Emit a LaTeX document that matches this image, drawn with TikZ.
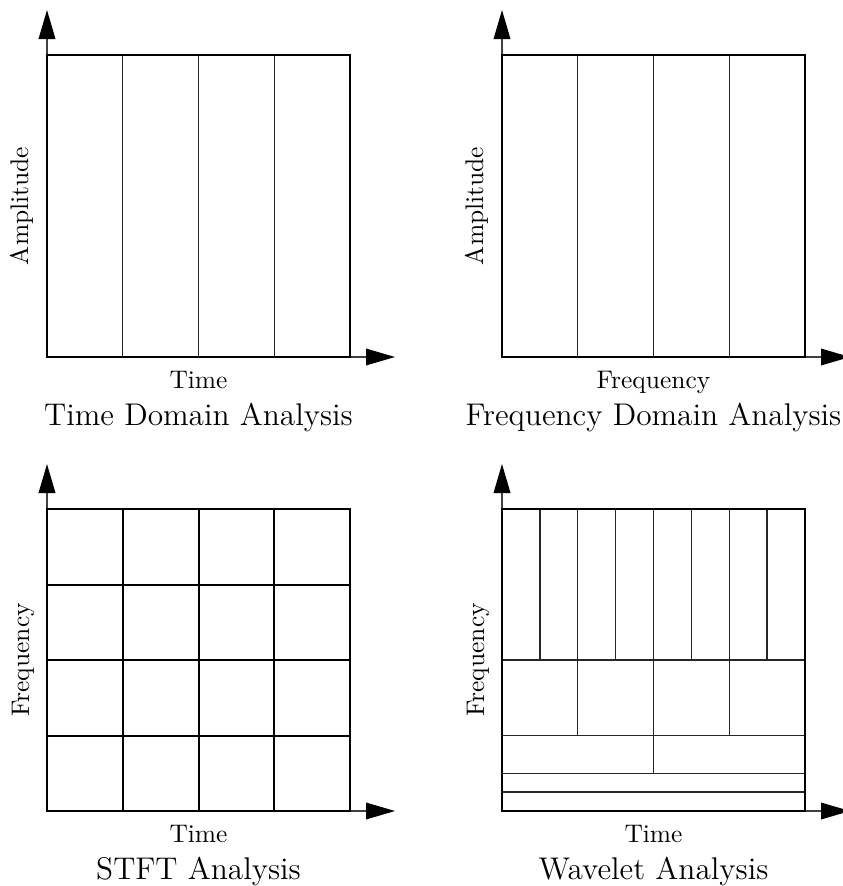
\documentclass[tikz,border=0pt]{standalone}
\usetikzlibrary{arrows.meta}
\begin{document}
\begin{tikzpicture}[x=0.75pt,y=-0.75pt,
  boxline/.style={line width=1.5pt,black},
  innerline/.style={line width=1.1pt,black!85},
  axisline/.style={line width=1pt,black!75,-{Triangle[length=21.75pt,width=12.5pt,color=black]}},
  axlabel/.style={font=\fontsize{10}{12}\selectfont,anchor=base,inner sep=0pt,scale=1.91,transform shape},
  caption/.style={font=\fontsize{12}{14}\selectfont,anchor=base,inner sep=0pt,scale=1.96,transform shape}]
\useasboundingbox (0,0) rectangle (843,886);
\clip (0,0) rectangle (843,886);

% ---------- Top-left: Time Domain ----------
\begin{scope}[shift={(47,55)}]
  \coordinate (tlO) at (0,302);
  \coordinate (tlY) at (0,-45);
  \coordinate (tlX) at (348,302);
  \foreach \x in {75.75,151.5,227.25} \draw[innerline] (\x,0) -- (\x,302);
  \draw[axisline] (tlO) -- (tlY);
  \draw[axisline] (tlO) -- (tlX);
  \draw[boxline] (0,0) rectangle (303,302);
  \node[axlabel] (tlxl) at (151.5,333) {Time};
  \node[caption] (tlcap) at (151.5,370) {Time Domain Analysis};
  \node[axlabel,rotate=90] (tlyl) at (-19,151) {Amplitude};
\end{scope}

% ---------- Top-right: Frequency Domain ----------
\begin{scope}[shift={(502,55)}]
  \coordinate (trO) at (0,302);
  \coordinate (trY) at (0,-45);
  \coordinate (trX) at (348,302);
  \foreach \x in {75.75,151.5,227.25} \draw[innerline] (\x,0) -- (\x,302);
  \draw[axisline] (trO) -- (trY);
  \draw[axisline] (trO) -- (trX);
  \draw[boxline] (0,0) rectangle (303,302);
  \node[axlabel] (trxl) at (151.5,333) {Frequency};
  \node[caption] (trcap) at (151.5,370) {Frequency Domain Analysis};
  \node[axlabel,rotate=90] (tryl) at (-19,151) {Amplitude};
\end{scope}

% ---------- Bottom-left: STFT ----------
\begin{scope}[shift={(47,509)}]
  \coordinate (blO) at (0,302);
  \coordinate (blY) at (0,-45);
  \coordinate (blX) at (348,302);
  \foreach \x in {75.75,151.5,227.25} \draw[boxline] (\x,0) -- (\x,302);
  \foreach \y in {75.5,151,226.5} \draw[boxline] (0,\y) -- (303,\y);
  \draw[axisline] (blO) -- (blY);
  \draw[axisline] (blO) -- (blX);
  \draw[boxline] (0,0) rectangle (303,302);
  \node[axlabel] (blxl) at (151.5,333) {Time};
  \node[caption] (blcap) at (151.5,370) {STFT Analysis};
  \node[axlabel,rotate=90] (blyl) at (-18,151) {Frequency};
\end{scope}

% ---------- Bottom-right: Wavelet ----------
\begin{scope}[shift={(502,509)}]
  \coordinate (brO) at (0,302);
  \coordinate (brY) at (0,-45);
  \coordinate (brX) at (348,302);
  \foreach \x in {37.875,75.75,113.625,151.5,189.375,227.25,265.125} \draw[innerline] (\x,0) -- (\x,151);
  \foreach \x in {75.75,151.5,227.25} \draw[innerline] (\x,151) -- (\x,226.5);
  \draw[innerline] (151.5,226.5) -- (151.5,264.25);
  \foreach \y in {151,226.5,264.25,283.1} \draw[innerline] (0,\y) -- (303,\y);
  \draw[axisline] (brO) -- (brY);
  \draw[axisline] (brO) -- (brX);
  \draw[boxline] (0,0) rectangle (303,302);
  \node[axlabel] (brxl) at (151.5,333) {Time};
  \node[caption] (brcap) at (151.5,370) {Wavelet Analysis};
  \node[axlabel,rotate=90] (bryl) at (-18,151) {Frequency};
\end{scope}
\end{tikzpicture}
\end{document}
